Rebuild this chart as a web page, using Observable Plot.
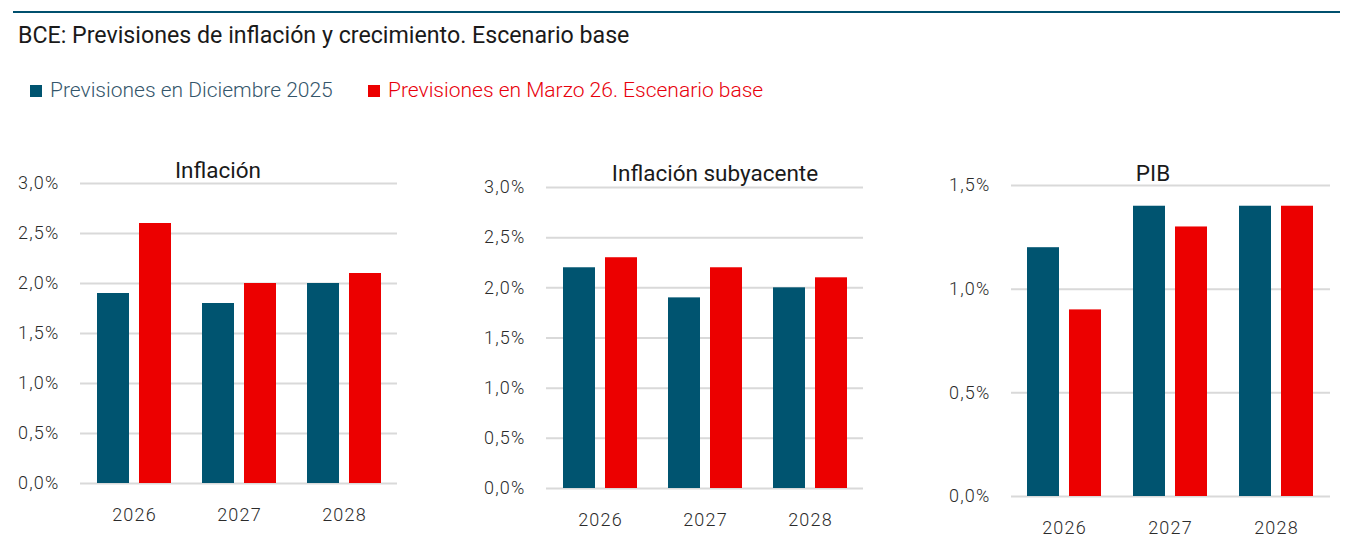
<!DOCTYPE html>
<html>
<head>
<meta charset="utf-8">
<script src="https://cdn.jsdelivr.net/npm/d3@7"></script>
<script src="https://cdn.jsdelivr.net/npm/@observablehq/plot@0.6"></script>
<style>
  html, body { margin: 0; padding: 0; background: #fff; }
  body { width: 1353px; height: 558px; position: relative; overflow: hidden; font-family: Roboto, "Open Sans", sans-serif; }
  .abs { position: absolute; }
  #topline { left: 13px; top: 11px; width: 1327px; height: 2px; background: #00506e; }
  #title { left: 18px; top: 21px; font-size: 23.2px; color: #1a1a1a; white-space: nowrap; line-height: 28px; }
  .leg { top: 78px; font-size: 21px; line-height: 24px; white-space: nowrap; font-weight: 300; }
  .sw { display: inline-block; width: 12px; height: 12px; margin-right: 8px; vertical-align: 0px; }
  .ptitle { font-size: 22.5px; color: #1a1a1a; white-space: nowrap; transform: translate(-50%, -50%); line-height: 26px; }
  svg { background: transparent !important; }
  svg text { font-weight: 300; letter-spacing: 1.2px; }
</style>
</head>
<body>
<div id="topline" class="abs"></div>
<div id="title" class="abs">BCE: Previsiones de inflación y crecimiento. Escenario base</div>
<div id="legend"></div>
<div id="charts"></div>
<script>
// ---- data ----
const years = ["2026", "2027", "2028"];
const seriesNames = ["Previsiones en Diciembre 2025", "Previsiones en Marzo 26. Escenario base"];
const seriesColors = ["#005470", "#ec0000"];
const legendTextColors = ["#34566b", "#e8000b"];
const panelTitles = ["Inflación", "Inflación subyacente", "PIB"];
const inflacionDic = [1.9, 1.8, 2.0];
const inflacionMar = [2.6, 2.0, 2.1];
const subyacenteDic = [2.2, 1.9, 2.0];
const subyacenteMar = [2.3, 2.2, 2.1];
const pibDic = [1.2, 1.4, 1.4];
const pibMar = [0.9, 1.3, 1.4];
const ticksInfl = [0, 0.5, 1.0, 1.5, 2.0, 2.5, 3.0];
const ticksPib = [0, 0.5, 1.0, 1.5];

const fmt = d => d.toFixed(1).replace(".", ",") + "%";

// legend
const legend = document.getElementById("legend");
const legX = [30, 368];
seriesNames.forEach((s, i) => {
  const el = document.createElement("div");
  el.className = "abs leg";
  el.style.left = legX[i] + "px";
  el.style.color = legendTextColors[i];
  el.innerHTML = `<span class="sw" style="background:${seriesColors[i]}"></span>${s}`;
  legend.appendChild(el);
});

function rows(dic, mar) {
  const out = [];
  years.forEach((y, i) => {
    out.push({year: y, series: seriesNames[0], value: dic[i]});
    out.push({year: y, series: seriesNames[1], value: mar[i]});
  });
  return out;
}

const panels = [
  {title: panelTitles[0], data: rows(inflacionDic, inflacionMar), ticks: ticksInfl, max: 3,
   left: 0, top: 140, width: 420, height: 400, ml: 80, mr: 23, mt: 43, mb: 57, tx: 218, ty: 170},
  {title: panelTitles[1], data: rows(subyacenteDic, subyacenteMar), ticks: ticksInfl, max: 3,
   left: 466, top: 140, width: 420, height: 400, ml: 80, mr: 23, mt: 47, mb: 52, tx: 715, ty: 173},
  {title: panelTitles[2], data: rows(pibDic, pibMar), ticks: ticksPib, max: 1.5,
   left: 931, top: 140, width: 422, height: 400, ml: 80, mr: 23, mt: 45, mb: 44, tx: 1153, ty: 173}
];

const charts = document.getElementById("charts");
const font = "Roboto, 'Open Sans', sans-serif";

panels.forEach(p => {
  const common = {
    width: p.width, height: p.height,
    marginLeft: p.ml, marginRight: p.mr, marginTop: p.mt, marginBottom: p.mb,
    style: {fontFamily: font, background: "transparent", overflow: "visible", fontSize: "18px"}
  };
  const base = Plot.plot({
    ...common,
    y: {domain: [0, p.max]},
    marks: [
      Plot.ruleY(p.ticks, {stroke: "#d9d9d9", strokeWidth: 2}),
      Plot.axisY(p.ticks, {tickFormat: fmt, tickSize: 0, tickPadding: 21, fontSize: 18, label: null, color: "#2b2b2b"})
    ]
  });
  const bars = Plot.plot({
    ...common,
    y: {domain: [0, p.max], axis: null},
    x: {domain: seriesNames, paddingInner: 0.23, paddingOuter: 0, axis: null},
    fx: {domain: years, paddingInner: 0.28, paddingOuter: 0.14, axis: "bottom", tickSize: 0, tickPadding: 25, label: null, fontSize: 18},
    color: {domain: seriesNames, range: seriesColors},
    marks: [
      Plot.barY(p.data, {fx: "year", x: "series", y: "value", fill: "series"})
    ]
  });
  [base, bars].forEach(svg => {
    svg.style.position = "absolute";
    svg.style.left = p.left + "px";
    svg.style.top = p.top + "px";
    svg.style.color = "#2b2b2b";
    charts.appendChild(svg);
  });
  const t = document.createElement("div");
  t.className = "abs ptitle";
  t.style.left = p.tx + "px";
  t.style.top = p.ty + "px";
  t.textContent = p.title;
  charts.appendChild(t);
});
</script>
</body>
</html>
